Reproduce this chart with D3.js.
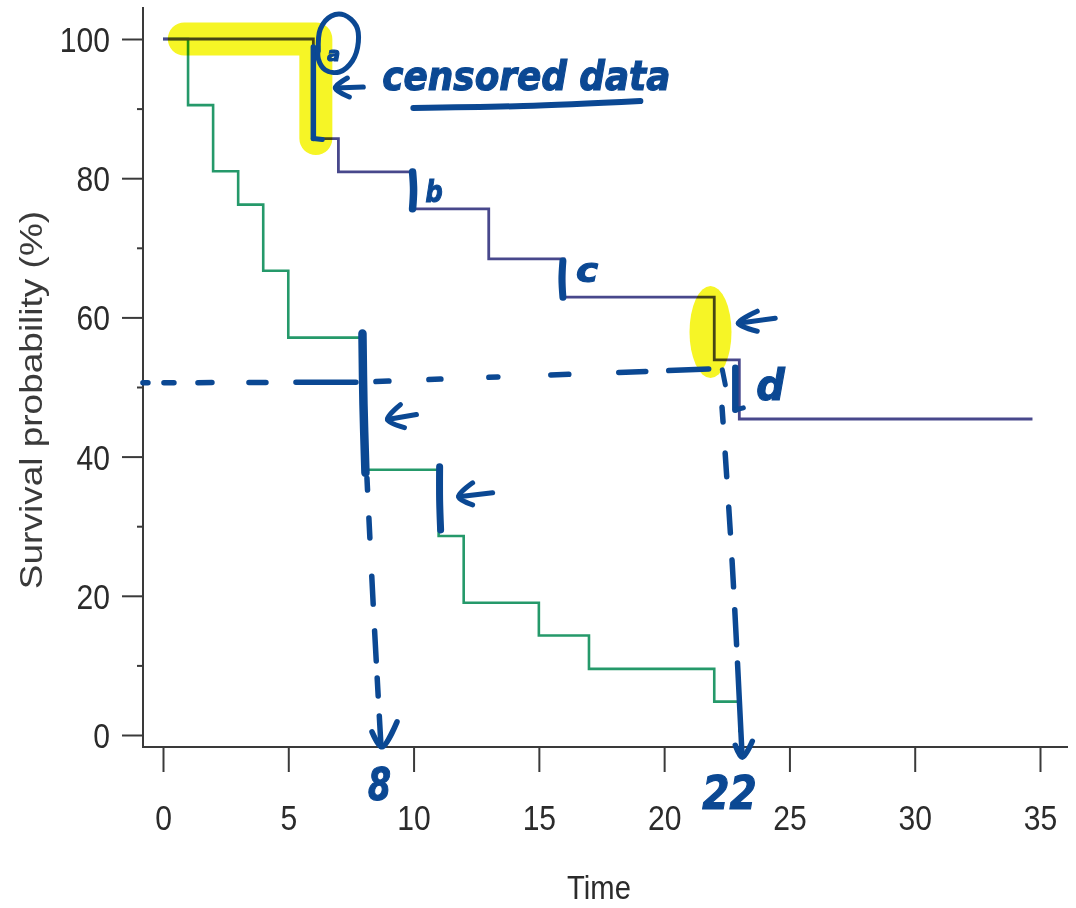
<!DOCTYPE html>
<html>
<head>
<meta charset="utf-8">
<script src="https://cdn.jsdelivr.net/npm/d3@7"></script>
<style>
  body { margin: 0; background: #fff; }
  svg text { font-family: "Liberation Sans", Arial, sans-serif; }
</style>
</head>
<body>
<div id="chart"></div>
<script>
// Kaplan-Meier steps (time, survival %)
const blueTimes = [0, 6, 7, 10, 13, 16, 22, 23, 34.7];
const blueSurv = [100, 85.7, 80.9, 75.6, 68.4, 62.9, 53.9, 45.4, 45.4];
const greenTimes = [0, 1, 2, 3, 4, 5, 8, 11, 12, 15, 17, 22, 23];
const greenSurv = [100, 90.5, 81.0, 76.2, 66.7, 57.1, 38.1, 28.6, 19.0, 14.3, 9.5, 4.8, 0.4];

const xTicks = [0, 5, 10, 15, 20, 25, 30, 35];
const yTicks = [0, 20, 40, 60, 80, 100];
const yMinorTicks = [10, 30, 50, 70, 90];

// handwritten notes: median read-off at 50 %
const medianSurv = 50;
const medianLabels = ['8', '22'];

const W = 1076, H = 908;
const axisX = 143, axisY = 747;
const ink = '#0b4893';

const x = d3.scaleLinear().domain([0, 35]).range([163, 1040]);
const y = d3.scaleLinear().domain([0, 100]).range([735, 39]);

const svg = d3.select('#chart').append('svg')
    .attr('width', W)
    .attr('height', H);

// ---- axes ----
function styleTicks(g, tx, ty) {
    g.select('.domain').remove();
    g.selectAll('.tick line').attr('stroke', '#3a3a3a').attr('stroke-width', 2);
    g.selectAll('.tick text')
        .attr('x', null).attr('y', null).attr('dy', null)
        .attr('transform', `translate(${tx},${ty}) scale(0.86,1)`)
        .attr('fill', '#2b2b2b')
        .style('font-size', '35px');
}

let gy = svg.append('g')
    .attr('transform', `translate(${axisX},0)`)
    .call(d3.axisLeft(y).tickValues(yTicks).tickSize(21).tickSizeOuter(0).tickFormat(d3.format('d')));
styleTicks(gy, -33, 12.5);

let gyMinor = svg.append('g')
    .attr('transform', `translate(${axisX},0)`)
    .call(d3.axisLeft(y).tickValues(yMinorTicks).tickSize(6).tickSizeOuter(0).tickFormat(''));
styleTicks(gyMinor, 0, 0);

let gx = svg.append('g')
    .attr('transform', `translate(0,${axisY})`)
    .call(d3.axisBottom(x).tickValues(xTicks).tickSize(25).tickSizeOuter(0));
styleTicks(gx, 0, 83);

svg.append('path')
    .attr('d', `M${axisX},7V${axisY}H1068`)
    .attr('fill', 'none')
    .attr('stroke', '#3a3a3a')
    .attr('stroke-width', 2);

svg.append('text')
    .attr('transform', 'translate(42,400) scale(0.86,1) rotate(-90)')
    .attr('text-anchor', 'middle')
    .attr('fill', '#3a3a3a')
    .style('font-size', '37px')
    .text('Survival probability (%)');

svg.append('text')
    .attr('transform', 'translate(599,899) scale(0.86,1)')
    .attr('text-anchor', 'middle')
    .attr('fill', '#2b2b2b')
    .style('font-size', '34px')
    .text('Time');

// ---- survival curves ----
const step = d3.line()
    .x(d => x(d[0]))
    .y(d => y(d[1]))
    .curve(d3.curveStepAfter);

svg.append('path')
    .attr('d', step(d3.zip(greenTimes, greenSurv)))
    .attr('fill', 'none')
    .attr('stroke', '#25996a')
    .attr('stroke-width', 2.6);

svg.append('path')
    .attr('d', step(d3.zip(blueTimes, blueSurv)))
    .attr('fill', 'none')
    .attr('stroke', '#48488c')
    .attr('stroke-width', 2.8);

// ---- highlighter ----
let hl = svg.append('g').style('mix-blend-mode', 'multiply');

hl.append('path')
    .attr('d', d3.line()([[x(0.85), y(100)], [x(6.1), y(100)], [x(6.1), y(85.7)]]))
    .attr('fill', 'none')
    .attr('stroke', '#f6f526')
    .attr('stroke-width', 33)
    .attr('stroke-linecap', 'round')
    .attr('stroke-linejoin', 'round');

hl.append('ellipse')
    .attr('cx', x(21.85))
    .attr('cy', y(57.9))
    .attr('rx', 21)
    .attr('ry', 46)
    .attr('fill', '#f6f526');

// ---- ink ----
let pen = svg.append('g');

function anchor(t, s) {
    return pen.append('g').attr('transform', `translate(${x(t)},${y(s)})`);
}

function scribble(g, pts, w, dash) {
    let p = g.append('path')
        .attr('d', d3.line().curve(d3.curveCatmullRom)(pts))
        .attr('fill', 'none')
        .attr('stroke', ink)
        .attr('stroke-width', w || 5.5)
        .attr('stroke-linecap', 'round')
        .attr('stroke-linejoin', 'round');
    if (dash) p.attr('stroke-dasharray', dash);
    return p;
}

function scrawl(g, tx, ty, txt, size, sx) {
    return g.append('text')
        .attr('transform', `translate(${tx},${ty}) scale(${sx || 1},1)`)
        .attr('fill', ink)
        .attr('stroke', ink)
        .attr('stroke-width', 1.2)
        .style('font-family', '"DejaVu Sans", sans-serif')
        .style('font-style', 'italic')
        .style('font-weight', 'bold')
        .style('font-size', size + 'px')
        .text(txt);
}

function drop(times, surv, t) {
    let i = times.indexOf(t);
    return y(surv[i]) - y(surv[i - 1]);
}

// (a) censored data at t = 6
let a = anchor(6, 100);
let ha = drop(blueTimes, blueSurv, 6);
scribble(a, [[0, 8], [0, ha / 2], [0, ha]], 5.5);
scribble(a, [[0, ha], [9, ha + 1]], 5);
scribble(a, [[5, 12], [7, -10], [18, -23], [31, -24], [43, -13], [45, 3], [39, 22], [26, 33], [12, 31], [5, 20], [5, 8]], 5);
scrawl(a, 14, 22, 'a', 19);
scribble(a, [[50, 48], [22, 49]], 5);
scribble(a, [[34, 39], [22, 49], [36, 58]], 5);
scrawl(a, 69, 51, 'censored data', 40).attr('textLength', 288).attr('lengthAdjust', 'spacingAndGlyphs');
scribble(a, [[100, 69], [210, 67], [327, 62]], 6);

// (b) t = 10
let b = anchor(10, 80.9);
scribble(b, [[-1, 0], [0, 18], [-1, drop(blueTimes, blueSurv, 10)]], 7.5);
scrawl(b, 12, 30, 'b', 30, 0.8);

// (c) t = 16
let c = anchor(16, 68.4);
scribble(c, [[-1, 2], [-2, 20], [-1, drop(blueTimes, blueSurv, 16)]], 7);
scrawl(c, 12, 23, 'c', 34, 1.1);

// arrow at the t = 22 drop
let k = anchor(22, 62.9);
scribble(k, [[61, 21], [24, 26]], 5);
scribble(k, [[43, 14], [24, 26], [43, 34]], 5);

// (d) t = 23
let d = anchor(23, 53.9);
scribble(d, [[-4, 8], [-4, 30], [-4, 50]], 6.5);
scribble(d, [[-4, 50], [4, 48]], 5);
scribble(d, [[-17, 10], [-14, 25]], 5);
scrawl(d, 17, 40, 'd', 42, 0.95);

// median crossing on the green curve at t = 8
let m = anchor(8, 57.1);
let hm = drop(greenTimes, greenSurv, 8);
scribble(m, [[-1, -4], [0, hm / 2], [2, hm + 3]], 8.5);
scribble(m, [[53, 77], [24, 82]], 5);
scribble(m, [[37, 67], [24, 82], [41, 90]], 5);

// (e) t = 11
let e = anchor(11, 38.1);
scribble(e, [[1, -3], [1, 30], [2, drop(greenTimes, greenSurv, 11) - 6]], 7);
scribble(e, [[54, 23], [20, 27]], 5);
scribble(e, [[34, 13], [20, 27], [34, 35]], 5);

// dashed read-off lines
scribble(pen, [], 5.5, '5 16 10 24 14 37 17 30 60 20 13 40 12 48 9 53 18 50 27 23 40 20')
    .attr('d', d3.line()([[x(-0.8), y(medianSurv + 0.6)], [x(7.9), y(medianSurv + 0.7)], [x(21.9), y(medianSurv + 2.6)]]));

scribble(pen, [[x(8.14), y(36.9)], [x(8.4), y(18)], [x(8.7), y(-1.6)]], 5.5, '12 28 20 38 28 27 30 17 18 20 30 40');
let v8 = anchor(8.74, -1.7);
scribble(v8, [[-10, -15], [0, 0], [15, -25]], 5.5);
scrawl(v8, -14, 53, medianLabels[0], 44, 0.75);

scribble(pen, [[x(22.31), y(47.1)], [x(22.71), y(25.1)], [x(23.11), y(-2.9)]], 5.5, '15 31 24 30 26 27 27 23 35 18 200');
let v22 = anchor(23.12, -3.2);
scribble(v22, [[-7, -12], [0, 0], [10, -16]], 5.5);
scrawl(v22, -40, 52, medianLabels[1], 46, 0.85);
</script>
</body>
</html>
